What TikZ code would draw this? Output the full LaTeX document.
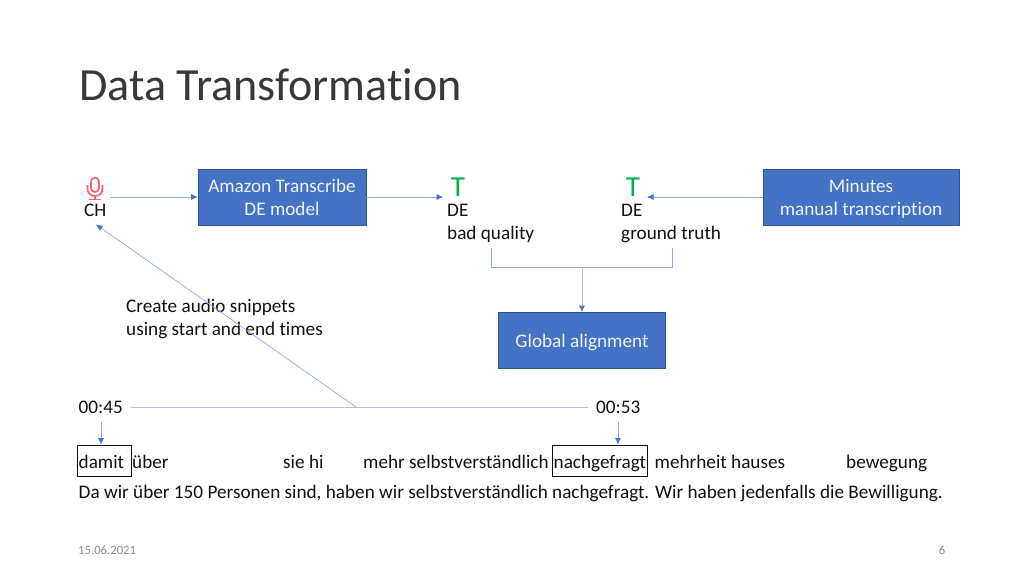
\documentclass[tikz,border=0pt]{standalone}
\usepackage{fontspec}
\setmainfont{Carlito}[Ligatures=NoCommon]
\usetikzlibrary{arrows.meta}
\definecolor{boxblue}{HTML}{4472C4}
\definecolor{boxedge}{HTML}{2F5597}
\definecolor{linkblue}{HTML}{8FAADC}
\definecolor{softblue}{HTML}{AFC2E6}
\definecolor{tipblue}{HTML}{4472C4}
\definecolor{teegreen}{HTML}{00B050}
\definecolor{micred}{HTML}{F4646E}
\definecolor{inkblack}{HTML}{111111}
\definecolor{footgrey}{HTML}{8B8B8B}
\newcommand{\tophold}{\rule{0pt}{18pt}}
\newcommand{\bothold}{\rule[-5pt]{0pt}{5pt}}
\tikzset{
  x=1pt,y=-1pt,
  bluebox/.style={draw=boxedge,line width=.8pt,fill=boxblue,text=white!92!boxblue,minimum width=#1,minimum height=56pt,inner sep=0pt,align=center,font=\fontsize{19.2}{23}\selectfont},
  label/.style={inner sep=0pt,anchor=base west,text=inkblack,font=\fontsize{19.2}{23}\selectfont,align=left},
  teeicon/.style={inner sep=0pt,anchor=base,text=teegreen,font=\fontsize{29}{29}\selectfont},
  link/.style={draw=softblue,line width=.95pt},
  thin link/.style={draw=linkblue,line width=.7pt},
  arrowed/.style={-{Latex[length=6.5pt,width=6pt,color=tipblue]}},
  wordbox/.style={draw=inkblack,line width=.9pt,inner sep=0pt},
  foot/.style={inner sep=0pt,anchor=base,text=footgrey,font=\fontsize{12.7}{14}\selectfont},
}
\begin{document}
\begin{tikzpicture}
\useasboundingbox (0,0) rectangle (1024,576);
\fill[white] (0,0) rectangle (1024,576);
\node[inner sep=0pt,anchor=base west,text=black!78,font=\fontsize{46.1}{50}\selectfont] (title) at (79,100) {Data Transformation};

% boxes
\node[bluebox=168pt] (amazon) at (282,197) {\tophold Amazon Transcribe\\DE model\bothold};
\node[bluebox=196pt] (minutes) at (861,197) {\tophold Minutes\\manual transcription\bothold};
\node[bluebox=167pt] (align) at (582,340.5) {\tophold Global alignment\bothold};

% microphone icon
\draw[micred,line width=1.7pt,rounded corners=4pt] (91,177.5) rectangle (99,192);
\draw[micred,line width=1.7pt] (87.5,185) -- (87.5,188.5) .. controls (87.5,193.5) and (91,196) .. (95,196) .. controls (99,196) and (102.5,193.5) .. (102.5,188.5) -- (102.5,185);
\draw[micred,line width=1.7pt] (95,196) -- (95,199.5) (89,199.5) -- (101,199.5);

% labels
\node[label] (ch) at (84,216) {CH};
\node[teeicon] (t1) at (458,196) {T};
\node[teeicon] (t2) at (633,196) {T};
\node[label] (de1) at (447,216) {DE};
\node[label] (bq) at (447,239) {bad quality};
\node[label] (de2) at (621,216) {DE};
\node[label] (gt) at (621,239) {ground truth};
\node[label] (snip1) at (126,312) {Create audio snippets};
\node[label] (snip2) at (126,335) {using start and end times};
\node[label] (t0) at (78.5,413) {00:45};
\node[label] (t3) at (596,413) {00:53};
\node[label] (w1) at (78.5,468) {damit};
\node[label] (w2) at (132,468) {über};
\node[label] (w3) at (283,468) {sie hi};
\node[label] (w4) at (363,468) {mehr selbstverständlich};
\node[label] (w5) at (553.5,468) {nachgefragt};
\node[label] (w6) at (654.5,468) {mehrheit hauses};
\node[label] (w7) at (846,468) {bewegung};
\node[label] (sent) at (78.5,498) {Da wir über 150 Personen sind, haben wir selbstverständlich nachgefragt. Wir haben jedenfalls die Bewilligung.};
\node[foot,anchor=base west] (date) at (78,554) {15.06.2021};
\node[foot] (page) at (942,554) {6};

% word boxes
\node[wordbox,minimum width=54pt,minimum height=31pt] (damitbox) at (104,460.5) {};
\node[wordbox,minimum width=95pt,minimum height=31pt] (nachbox) at (599.5,460.5) {};

% free ends
\coordinate (micout) at (110,197);
\coordinate (t1in) at (443,197);
\coordinate (t2in) at (647,197);
\coordinate (bqout) at (491,248);
\coordinate (gtout) at (672,248);
\coordinate (joinl) at (491,267);
\coordinate (joinr) at (672,267);
\coordinate (joinm) at (582,267);
\coordinate (spanl) at (131,407);
\coordinate (spanr) at (588,407);
\coordinate (spanm) at (356,407);
\coordinate (micback) at (96,224.5);
\coordinate (d1) at (101,422);
\coordinate (d2) at (618,422);

% connectors
\draw[thin link,arrowed] (micout) -- (amazon.west);
\draw[thin link,arrowed] (amazon.east) -- (t1in);
\draw[thin link,arrowed] (minutes.west) -- (t2in);
\draw[thin link] (bqout) -- (joinl) -- (joinr) -- (gtout);
\draw[link,arrowed] (joinm) -- (align.north);
\draw[link] (spanl) -- (spanr);
\draw[thin link,arrowed] (spanm) -- (micback);
\draw[thin link,arrowed] (d1) -- (d1 |- damitbox.north);
\draw[thin link,arrowed] (d2) -- (d2 |- nachbox.north);
\end{tikzpicture}
\end{document}
